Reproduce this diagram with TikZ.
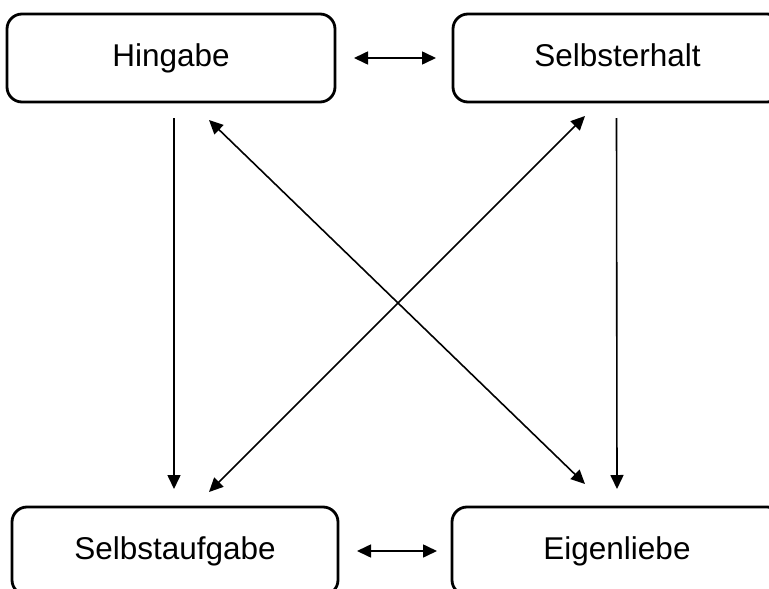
\documentclass[tikz,border=0pt]{standalone}
\usepackage{fontspec}
\setmainfont{Liberation Sans}
\usetikzlibrary{arrows.meta}
\begin{document}
\begin{tikzpicture}[x=1pt,y=-1pt,
  box/.style={draw=black, line width=2.8pt, rounded corners=15pt,
    minimum height=88pt, inner sep=0pt, outer sep=0pt,
    text height=23pt, text depth=7pt,
    font=\fontsize{31.5}{36}\selectfont},
  link/.style={line width=1.6pt,
    {Triangle[length=14pt,width=13pt]}-{Triangle[length=14pt,width=13pt]}},
  oneway/.style={line width=1.6pt, -{Triangle[length=14pt,width=13pt]}}]
\useasboundingbox (0,0) rectangle (769,589);
% the four states
\node[box, minimum width=328pt] (hin) at (171,58) {Hingabe};
\node[box, minimum width=329pt] (erh) at (617.5,58) {Selbsterhalt};
\node[box, minimum width=326pt] (auf) at (175,551) {Selbstaufgabe};
\node[box, minimum width=330pt] (eig) at (617,551) {Eigenliebe};
% horizontal pairs
\draw[link] ([xshift=19pt]hin.east) -- ([xshift=-17pt]erh.west);
\draw[link] ([xshift=19pt]auf.east) -- ([xshift=-15pt]eig.west);
% downward arrows
\draw[oneway] ([xshift=3pt,yshift=-16pt]hin.south) -- ([xshift=-1pt,yshift=18pt]auf.north);
\draw[oneway] ([xshift=-1pt,yshift=-16pt]erh.south) -- ([xshift=0pt,yshift=18pt]eig.north);
% crossing diagonals
\draw[link] ([xshift=38pt,yshift=-18pt]hin.south) -- ([xshift=-32pt,yshift=23pt]eig.north);
\draw[link] ([xshift=-32.5pt,yshift=-14pt]erh.south) -- ([xshift=34pt,yshift=15pt]auf.north);
\end{tikzpicture}
\end{document}
